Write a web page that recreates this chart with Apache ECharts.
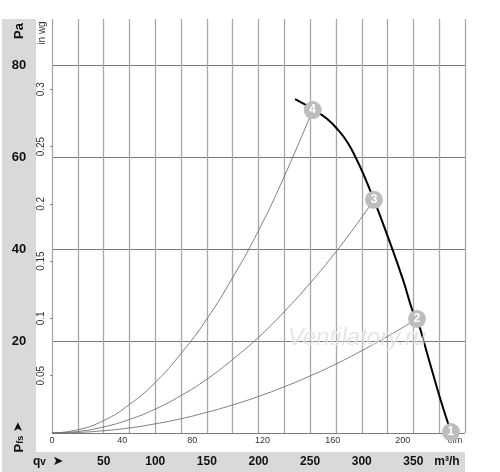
<!DOCTYPE html>
<html>
<head>
<meta charset="utf-8">
<script src="https://cdn.jsdelivr.net/npm/echarts@6/dist/echarts.min.js"></script>
<style>html,body{margin:0;padding:0;background:#fff}#c{width:500px;height:472px}</style>
</head>
<body>
<div id="c"></div>
<script>
// ---- data ----
// x in m3/h, y in Pa
const fanCurve = [[235.4,72.6],[252.8,70.4],[266.3,68.3],[277.0,65.9],[286.7,63.0],[295.4,59.3],[301.2,56.5],[308.0,52.8],[311.9,50.7],[325.4,42.6],[340.0,33.3],[349.6,26.3],[353.5,24.8],[363.2,17.4],[375.8,7.6],[386.4,0.2]];
const system4 = [[0,0],[25,0.7],[50,2.7],[75,6.2],[100,11.0],[125,17.3],[150,24.8],[175,33.8],[200,44.0],[225,55.8],[252.5,70.2]];
const system3 = [[0,0],[25,0.33],[50,1.32],[75,2.95],[100,5.2],[125,8.15],[150,11.7],[175,16.0],[200,20.8],[225,26.4],[250,32.6],[275,39.4],[300,46.9],[311.9,50.7]];
const system2 = [[0,0],[25,0.12],[50,0.5],[75,1.1],[100,2.0],[125,3.1],[150,4.5],[175,6.1],[200,7.95],[225,10.05],[250,12.4],[275,15.0],[300,17.9],[325,21.0],[353.5,24.8]];
const opPoints = [[386.4,0.2,'1'],[353.5,24.8,'2'],[311.9,50.7,'3'],[252.5,70.2,'4']];
const qvLabels = [50,100,150,200,250,300,350];
const cfmLabels = [0,40,80,120,160,200];
const paLabels = [20,40,60,80];
const inwgLabels = [0.05,0.1,0.15,0.2,0.25,0.3];
const M3H_PER_CFM = 1.699;
const PA_PER_INWG = 249.089;
const qvMax = 400, paMax = 90;

const chart = echarts.init(document.getElementById('c'), null, {renderer:'canvas'});
const FF = 'Liberation Sans, Arial, sans-serif';

chart.setOption({
  animation: false,
  textStyle: {fontFamily: FF},
  grid: {left: 52, top: 19, right: 35, bottom: 39, containLabel: false, outerBoundsMode: 'none'},
  graphic: [
    {type:'rect', z:-10, silent:true, shape:{x:2, y:19, width:34, height:453}, style:{fill:'#d9d9d9'}},
    {type:'rect', z:-10, silent:true, shape:{x:2, y:452, width:463, height:20}, style:{fill:'#d9d9d9'}},
    {type:'text', x:19, y:31, rotation:Math.PI/2, style:{text:'Pa', font:'bold 13px '+FF, fill:'#111', align:'center', verticalAlign:'middle'}},
    {type:'text', x:42, y:33, rotation:Math.PI/2, style:{text:'in wg', font:'10px '+FF, fill:'#333', align:'center', verticalAlign:'middle'}},
    {type:'text', x:19, y:437, rotation:Math.PI/2, style:{
      text:'{b|P}{s|fs} {a|➤}', align:'center', verticalAlign:'middle',
      rich:{b:{font:'bold 13px '+FF, fill:'#111'}, s:{font:'bold 9px '+FF, fill:'#111', padding:[4,0,0,0]}, a:{font:'bold 13px DejaVu Sans', fill:'#111'}}
    }},
    {type:'text', x:33, y:462, style:{
      text:'{b|q}{s|v}  {a|➤}', align:'left', verticalAlign:'middle',
      rich:{b:{font:'bold 12px '+FF, fill:'#111'}, s:{font:'bold 10px '+FF, fill:'#111'}, a:{font:'bold 13px DejaVu Sans', fill:'#111'}}
    }},
    {type:'text', x:447, y:462, style:{text:'m³/h', font:'bold 12px '+FF, fill:'#111', align:'center', verticalAlign:'middle'}},
    {type:'text', x:455, y:441, z:1, style:{text:'cfm', font:'9px '+FF, fill:'#333', align:'center', verticalAlign:'middle'}},
    {type:'text', x:357, y:338, z:50, silent:true, style:{text:'Ventilatory.ru', font:'italic 24px '+FF, fill:'rgba(205,205,205,0.5)', stroke:'rgba(255,255,255,0.7)', lineWidth:1, align:'center', verticalAlign:'middle'}}
  ],
  xAxis: [
    {type:'value', min:0, max:qvMax, interval:25, position:'bottom',
     axisLine:{show:false}, axisTick:{show:false},
     splitLine:{show:true, lineStyle:{color:'#a8a8a8', width:1.3}},
     axisLabel:{customValues:qvLabels, margin:23, color:'#111', fontWeight:'bold', fontSize:12}},
    {type:'value', min:0, max:qvMax/M3H_PER_CFM, position:'bottom',
     axisLine:{show:false}, axisTick:{show:false}, splitLine:{show:false},
     axisLabel:{customValues:cfmLabels, margin:3, fontSize:9, color:'#333'}}
  ],
  yAxis: [
    {type:'value', min:0, max:paMax, interval:20, position:'left',
     axisLine:{show:false}, axisTick:{show:false},
     splitLine:{show:true, lineStyle:{color:['#7a7a7a','#7a7a7a','#7a7a7a','#7a7a7a','#7a7a7a','rgba(0,0,0,0)'], width:1}},
     axisLabel:{customValues:paLabels, margin:33, align:'center', fontSize:13, fontWeight:'bold', color:'#111'}},
    {type:'value', min:0, max:paMax/PA_PER_INWG, position:'left', offset:5,
     axisLine:{show:false},
     axisTick:{show:true, customValues:inwgLabels, length:1.5, lineStyle:{color:'#555'}},
     splitLine:{show:false},
     axisLabel:{customValues:inwgLabels, rotate:90, margin:1, fontSize:10, color:'#333',
       formatter:(v)=>String(+(+v).toFixed(2))}}
  ],
  series: [
    {type:'line', data:system4, smooth:true, symbol:'none', lineStyle:{color:'#707070', width:0.9}, z:3},
    {type:'line', data:system3, smooth:true, symbol:'none', lineStyle:{color:'#707070', width:0.9}, z:3},
    {type:'line', data:system2, smooth:true, symbol:'none', lineStyle:{color:'#707070', width:0.9}, z:3},
    {type:'line', data:fanCurve, smooth:true, symbol:'none', lineStyle:{color:'#000', width:2}, z:4},
    {type:'scatter', data:opPoints, symbolSize:18, z:5,
     itemStyle:{color:'#bdbdbd', opacity:1},
     label:{show:true, position:'inside', formatter:(p)=>p.data[2], color:'#fff', fontWeight:'bold', fontSize:12}}
  ]
});
</script>
</body>
</html>
